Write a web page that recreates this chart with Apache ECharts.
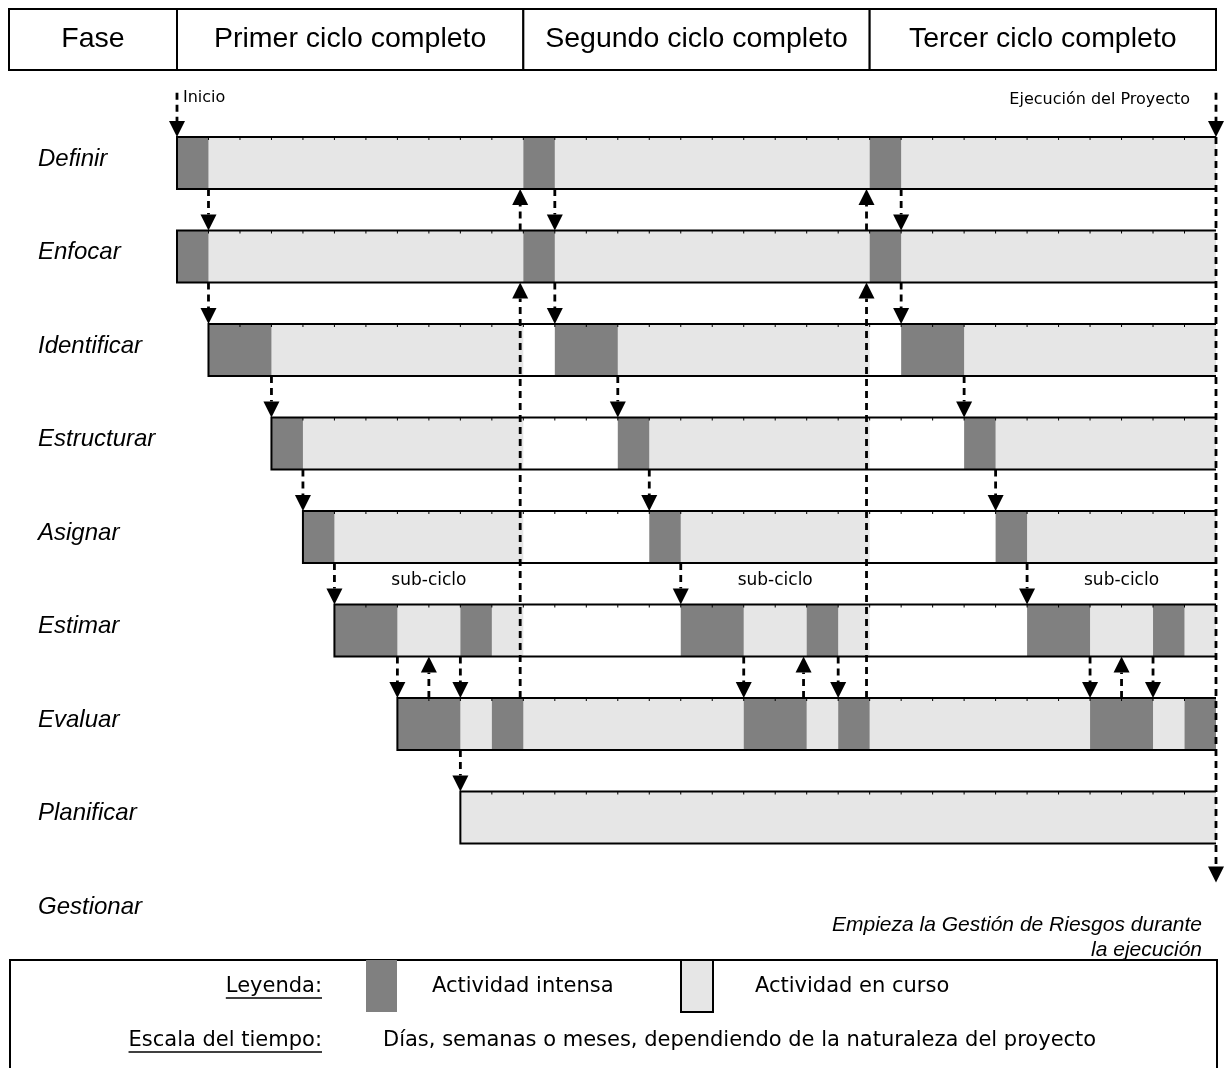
<!DOCTYPE html>
<html>
<head>
<meta charset="utf-8">
<script src="https://cdn.jsdelivr.net/npm/echarts@6/dist/echarts.min.js"></script>
<style>
html, body { margin: 0; padding: 0; background: #fff; }
#main { width: 1230px; height: 1068px; }
</style>
</head>
<body>
<div id="main"></div>
<script>
// data
var fases = ['Definir', 'Enfocar', 'Identificar', 'Estructurar', 'Asignar', 'Estimar', 'Evaluar', 'Planificar', 'Gestionar'];
var ciclos = ['Primer ciclo completo', 'Segundo ciclo completo', 'Tercer ciclo completo'];
var limitesCiclo = [0, 11, 22, 33];
var inicioFase = [0, 0, 1, 3, 4, 5, 7, 9, null]; // Gestionar no tiene barra

// [fase, desde, hasta]
var intensa = [
    [0, 0, 1], [0, 11, 12], [0, 22, 23],
    [1, 0, 1], [1, 11, 12], [1, 22, 23],
    [2, 1, 3], [2, 12, 14], [2, 23, 25],
    [3, 3, 4], [3, 14, 15], [3, 25, 26],
    [4, 4, 5], [4, 15, 16], [4, 26, 27],
    [5, 5, 7], [5, 9, 10], [5, 16, 18], [5, 20, 21], [5, 27, 29], [5, 31, 32],
    [6, 7, 9], [6, 10, 11], [6, 18, 20], [6, 21, 22], [6, 29, 31], [6, 32, 33]
];
var enCurso = [
    [0, 1, 11], [0, 12, 22], [0, 23, 33],
    [1, 1, 11], [1, 12, 22], [1, 23, 33],
    [2, 3, 11], [2, 14, 22], [2, 25, 33],
    [3, 4, 11], [3, 15, 22], [3, 26, 33],
    [4, 5, 11], [4, 16, 22], [4, 27, 33],
    [5, 7, 9], [5, 10, 11], [5, 18, 20], [5, 21, 22], [5, 29, 31], [5, 32, 33],
    [6, 9, 10], [6, 11, 18], [6, 20, 21], [6, 22, 29], [6, 31, 32],
    [7, 9, 33]
];

// [x, fila origen, borde origen, fila destino, borde destino]  (borde: -1 arriba, 1 abajo)
var flechas = [
    [1, 0, 1, 1, -1], [12, 0, 1, 1, -1], [23, 0, 1, 1, -1],
    [1, 1, 1, 2, -1], [12, 1, 1, 2, -1], [23, 1, 1, 2, -1],
    [3, 2, 1, 3, -1], [14, 2, 1, 3, -1], [25, 2, 1, 3, -1],
    [4, 3, 1, 4, -1], [15, 3, 1, 4, -1], [26, 3, 1, 4, -1],
    [5, 4, 1, 5, -1], [16, 4, 1, 5, -1], [27, 4, 1, 5, -1],
    [7, 5, 1, 6, -1], [9, 5, 1, 6, -1],
    [18, 5, 1, 6, -1], [21, 5, 1, 6, -1],
    [29, 5, 1, 6, -1], [31, 5, 1, 6, -1],
    [9, 6, 1, 7, -1],
    [8, 6, -1, 5, 1], [19.9, 6, -1, 5, 1], [30, 6, -1, 5, 1],
    [10.9, 6, -1, 1, 1], [21.9, 6, -1, 1, 1],
    [10.9, 1, -1, 0, 1], [21.9, 1, -1, 0, 1],
    // inicio y fin del proyecto
    [0, 0, -2.7, 0, -1], [33, 0, -2.7, 0, -1], [33, 0, -1, 8, -1.1]
];
var subCiclos = [8, 19, 30];

var leyenda = ['Actividad intensa', 'Actividad en curso'];
var escala = 'Días, semanas o meses, dependiendo de la naturaleza del proyecto';

// styles
var OSCURO = '#808080';
var CLARO = '#e6e6e6';
var BAR_H = 52;
var FIN = 33;
var SANS = '"Liberation Sans", Arial, sans-serif';
var VERD = '"DejaVu Sans", Verdana, sans-serif';

var dom = document.getElementById('main');
var myChart = echarts.init(dom, null, { renderer: 'canvas' });

function anchoTexto(txt, font) {
    var ctx = document.createElement('canvas').getContext('2d');
    ctx.font = font;
    return ctx.measureText(txt).width;
}

function renderSegmento(params, api) {
    var fila = api.value(0);
    var p1 = api.coord([api.value(1), fila]);
    var p2 = api.coord([api.value(2), fila]);
    return {
        type: 'rect',
        shape: { x: p1[0], y: p1[1] - BAR_H / 2, width: p2[0] - p1[0], height: BAR_H },
        style: { fill: api.visual('color') }
    };
}

function renderMarco(params, api) {
    var fila = api.value(0);
    var a = api.coord([api.value(1), fila]);
    var b = api.coord([FIN, fila]);
    var top = a[1] - BAR_H / 2, bot = a[1] + BAR_H / 2;
    var hijos = [{
        type: 'polyline',
        shape: { points: [[b[0], top], [a[0], top], [a[0], bot], [b[0], bot]] },
        style: { stroke: '#000', lineWidth: 2, fill: null }
    }];
    // marcas pequeñas de la escala del tiempo
    for (var u = api.value(1) + 1; u < FIN; u++) {
        var t = api.coord([u, fila]);
        hijos.push({
            type: 'line',
            shape: { x1: t[0], y1: top, x2: t[0], y2: top + 3 },
            style: { stroke: '#000', lineWidth: 1 }
        });
    }
    return { type: 'group', children: hijos };
}

function renderFlecha(params, api) {
    var x = api.value(0);
    var p1 = api.coord([x, api.value(1)]);
    var p2 = api.coord([x, api.value(3)]);
    var y1 = p1[1] + api.value(2) * BAR_H / 2;
    var y2 = p2[1] + api.value(4) * BAR_H / 2;
    var dir = y2 > y1 ? 1 : -1;
    var base = y2 - dir * 16;
    return {
        type: 'group',
        children: [
            { type: 'line', shape: { x1: p1[0], y1: y1, x2: p1[0], y2: base },
              style: { stroke: '#000', lineWidth: 2.8, lineDash: [7, 5] } },
            { type: 'polygon', shape: { points: [[p1[0] - 8, base], [p1[0] + 8, base], [p1[0], y2]] },
              style: { fill: '#000' } }
        ]
    };
}

function renderSubCiclo(params, api) {
    var p = api.coord([api.value(0), 5]);
    return {
        type: 'text',
        x: p[0], y: p[1] - BAR_H / 2 - 24,
        style: { text: 'sub-ciclo', font: '17px ' + VERD, fill: '#000', align: 'center', verticalAlign: 'middle' }
    };
}

var cabecera = [[null, 0, 'Fase']];
ciclos.forEach(function (c, i) { cabecera.push([limitesCiclo[i], limitesCiclo[i + 1], c]); });

function renderCabecera(params, api) {
    var cs = params.coordSys;
    var item = cabecera[params.dataIndex];
    var x1 = item[0] === null ? 9 : api.coord([item[0], 0])[0];
    var x2 = api.coord([item[1], 0])[0];
    return {
        type: 'group',
        children: [
            { type: 'rect', shape: { x: x1, y: cs.y, width: x2 - x1, height: cs.height },
              style: { fill: '#fff', stroke: '#000', lineWidth: 2 } },
            { type: 'text', x: (x1 + x2) / 2, y: cs.y + cs.height / 2,
              style: { text: item[2], font: '28.5px ' + SANS, fill: '#000', align: 'center', verticalAlign: 'middle' } }
        ]
    };
}

var marcos = [];
inicioFase.forEach(function (s, i) { if (s !== null) marcos.push([i, s]); });

// legend box (bottom)
var fLey = '21px ' + VERD;
var fIta = 'italic 21px ' + SANS;
var graphic = [
    { type: 'rect', shape: { x: 10, y: 960, width: 1207, height: 140 },
      style: { fill: null, stroke: '#000', lineWidth: 2 } },
    { type: 'rect', shape: { x: 366, y: 960, width: 31, height: 52 }, style: { fill: OSCURO } },
    { type: 'rect', shape: { x: 681, y: 960, width: 32, height: 52 },
      style: { fill: CLARO, stroke: '#000', lineWidth: 2 } },
    { type: 'text', x: 322, y: 987, style: { text: 'Leyenda:', font: fLey, fill: '#000', align: 'right', verticalAlign: 'middle' } },
    { type: 'line', shape: { x1: 322 - anchoTexto('Leyenda:', fLey), y1: 998, x2: 322, y2: 998 }, style: { stroke: '#000', lineWidth: 1.5 } },
    { type: 'text', x: 432, y: 987, style: { text: leyenda[0], font: fLey, fill: '#000', verticalAlign: 'middle' } },
    { type: 'text', x: 755, y: 987, style: { text: leyenda[1], font: fLey, fill: '#000', verticalAlign: 'middle' } },
    { type: 'text', x: 322, y: 1041, style: { text: 'Escala del tiempo:', font: fLey, fill: '#000', align: 'right', verticalAlign: 'middle' } },
    { type: 'line', shape: { x1: 322 - anchoTexto('Escala del tiempo:', fLey), y1: 1052, x2: 322, y2: 1052 }, style: { stroke: '#000', lineWidth: 1.5 } },
    { type: 'text', x: 383, y: 1041, style: { text: escala, font: fLey, fill: '#000', verticalAlign: 'middle' } },
    // annotations
    { type: 'text', x: 183, y: 98, style: { text: 'Inicio', font: '16px ' + VERD, fill: '#000', verticalAlign: 'middle' } },
    { type: 'text', x: 1190, y: 100, style: { text: 'Ejecución del Proyecto', font: '16px ' + VERD, fill: '#000', align: 'right', verticalAlign: 'middle' } },
    { type: 'text', x: 1202, y: 925, style: { text: 'Empieza la Gestión de Riesgos durante', font: fIta, fill: '#000', align: 'right', verticalAlign: 'middle' } },
    { type: 'text', x: 1202, y: 950, style: { text: 'la ejecución', font: fIta, fill: '#000', align: 'right', verticalAlign: 'middle' } }
];

var option = {
    backgroundColor: '#fff',
    animation: false,
    grid: [
        { left: 177, right: 14, top: 116.25, height: 841.5 },
        { left: 177, right: 14, top: 9, height: 61 }
    ],
    xAxis: [
        { type: 'value', gridIndex: 0, min: 0, max: FIN, show: false },
        { type: 'value', gridIndex: 1, min: 0, max: FIN, show: false }
    ],
    yAxis: [
        {
            type: 'category', gridIndex: 0, data: fases, inverse: true,
            axisLine: { show: false }, axisTick: { show: false }, splitLine: { show: false },
            axisLabel: {
                align: 'left', margin: 139,
                formatter: '{f|{value}}',
                rich: {
                    f: {
                        color: '#000', fontStyle: 'italic', fontSize: 24, fontFamily: 'Liberation Sans',
                        padding: [0, 0, 8, 0]
                    }
                }
            }
        },
        { type: 'category', gridIndex: 1, data: ['cabecera'], show: false }
    ],
    graphic: graphic,
    series: [
        { name: 'Actividad en curso', type: 'custom', renderItem: renderSegmento, itemStyle: { color: CLARO },
          encode: { x: [1, 2], y: 0 }, data: enCurso, z: 1 },
        { name: 'Actividad intensa', type: 'custom', renderItem: renderSegmento, itemStyle: { color: OSCURO },
          encode: { x: [1, 2], y: 0 }, data: intensa, z: 1 },
        { name: 'marco', type: 'custom', renderItem: renderMarco, encode: { x: 1, y: 0 }, data: marcos, z: 2 },
        { name: 'flechas', type: 'custom', renderItem: renderFlecha, encode: { x: 0, y: [1, 3] }, data: flechas, z: 3 },
        { name: 'sub-ciclo', type: 'custom', renderItem: renderSubCiclo, encode: { x: 0 },
          data: subCiclos.map(function (x) { return [x]; }), z: 3 },
        { name: 'cabecera', type: 'custom', xAxisIndex: 1, yAxisIndex: 1, renderItem: renderCabecera,
          encode: { x: [0, 1] }, data: cabecera.map(function (c) { return [c[0] === null ? 0 : c[0], c[1]]; }), z: 2 }
    ]
};

myChart.setOption(option, true);
</script>
</body>
</html>
